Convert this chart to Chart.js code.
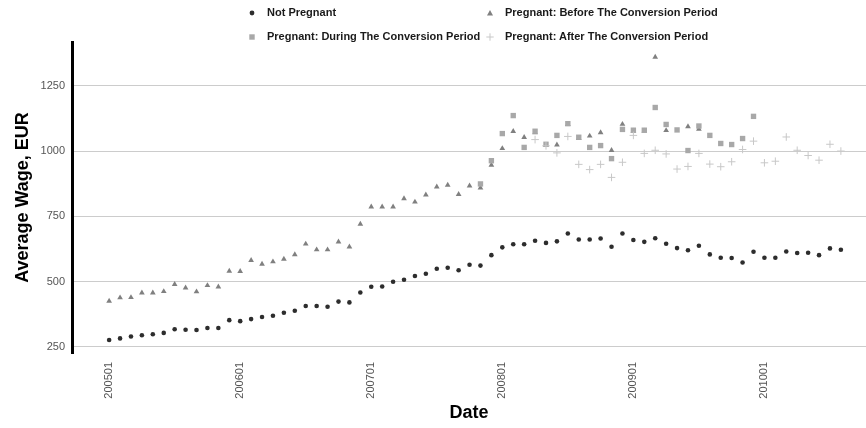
<!DOCTYPE html>
<html>
<head>
<meta charset="utf-8">
<script src="https://cdn.jsdelivr.net/npm/chart.js@4/dist/chart.umd.min.js"></script>
<style>
  body { margin: 0; background: #fff; }
  #wrap { position: relative; width: 866px; height: 428px; }
  .lg { position: absolute; height: 14px; line-height: 14px; font: bold 11px 'Liberation Sans', Arial, sans-serif; color: #1a1a1a; white-space: nowrap; }
  .lg svg { position: absolute; left: -21px; top: 1px; }
</style>
</head>
<body>
<div id="wrap">
  <canvas id="wageChart"></canvas>
  <div class="lg" style="left:267px;top:6px"><svg width="12" height="12"><circle cx="6" cy="6" r="2.4" fill="#2d2d2d"/></svg>Not Pregnant</div>
  <div class="lg" style="left:505px;top:6px"><svg width="12" height="12"><polygon points="6,3 9,8.5 3,8.5" fill="#808080"/></svg>Pregnant: Before The Conversion Period</div>
  <div class="lg" style="left:267px;top:30px"><svg width="12" height="12"><rect x="3.3" y="3.3" width="5.4" height="5.4" fill="#a8a8a8"/></svg>Pregnant: During The Conversion Period</div>
  <div class="lg" style="left:505px;top:30px"><svg width="12" height="12"><path d="M6 2.3V9.7M2.3 6H9.7" stroke="#c8c8c8" stroke-width="1"/></svg>Pregnant: After The Conversion Period</div>
</div>
<script>
// months on the x axis (one point per month)
const months = [
  '200501','200502','200503','200504','200505','200506','200507','200508','200509','200510','200511','200512',
  '200601','200602','200603','200604','200605','200606','200607','200608','200609','200610','200611','200612',
  '200701','200702','200703','200704','200705','200706','200707','200708','200709','200710','200711','200712',
  '200801','200802','200803','200804','200805','200806','200807','200808','200809','200810','200811','200812',
  '200901','200902','200903','200904','200905','200906','200907','200908','200909','200910','200911','200912',
  '201001','201002','201003','201004','201005','201006','201007','201008'
];
const tickLabels = ['200501', '200601', '200701', '200801', '200901', '201001'];
const yTicks = [250, 500, 750, 1000, 1250];

// Not Pregnant, from 200501
const notPregnant = [
  276, 282, 289, 294, 298, 303, 317, 315, 314, 322, 322, 352,
  348, 356, 364, 369, 380, 388, 406, 406, 403, 423, 420, 458,
  480, 481, 499, 507, 521, 530, 549, 553, 543, 564, 561, 601,
  631, 643, 643, 656, 648, 654, 684, 661, 661, 665, 633, 684,
  659, 652, 666, 645, 628, 620, 637, 604, 591, 590, 573, 614,
  591, 591, 615, 609, 610, 601, 627, 622
];

// Pregnant: Before The Conversion Period
const beforeFrom = '200501';
const before = [
  425, 438, 439, 457, 457, 462, 489, 476, 461, 485, 480, 540,
  539, 581, 567, 576, 586, 603, 644, 622, 622, 652, 633, 720,
  786, 786, 786, 818, 805, 832, 863, 870, 834, 867, 859, 946,
  1010, 1076, 1053, 1071, 1022, 1024, 1102, 1049, 1058, 1071, 1003, 1103,
  1077, 1077, 1360, 1079, null, 1094, 1084
];

// Pregnant: During The Conversion Period
const duringFrom = '200711';
const during = [
  874, 963,
  1067, 1136, 1014, 1076, 1026, 1060, 1105, 1053, 1014, 1021, 971, 1083,
  1080, 1080, 1167, 1102, 1081, 1002, 1096, 1060, 1029, 1025, 1048, 1133
];

// Pregnant: After The Conversion Period
const afterFrom = '200804';
const after = [
  1044, 1020, 993, 1056, 949, 929, 949, 899, 957,
  1060, 991, 1003, 989, 931, 941, 991, 950, 940, 959, 1006, 1038,
  955, 961, 1054, 1003, 983, 965, 1026, 1000
];

function toPoints(values, from) {
  const start = months.indexOf(from);
  return values
    .map((v, i) => (v === null ? null : { x: start + i, y: v }))
    .filter(p => p !== null);
}

Chart.defaults.font.family = "'Liberation Sans', Arial, sans-serif";

new Chart(document.getElementById('wageChart'), {
  type: 'scatter',
  data: {
    datasets: [
      {
        label: 'Not Pregnant',
        data: toPoints(notPregnant, '200501'),
        pointStyle: 'circle',
        pointRadius: 2.3,
        backgroundColor: '#2d2d2d',
        borderWidth: 0,
        order: 3
      },
      {
        label: 'Pregnant: Before The Conversion Period',
        data: toPoints(before, beforeFrom),
        pointStyle: 'triangle',
        pointRadius: 3.3,
        backgroundColor: '#808080',
        borderWidth: 0,
        order: 2
      },
      {
        label: 'Pregnant: During The Conversion Period',
        data: toPoints(during, duringFrom),
        pointStyle: 'rect',
        pointRadius: 3.8,
        backgroundColor: '#a8a8a8',
        borderWidth: 0,
        order: 1
      },
      {
        label: 'Pregnant: After The Conversion Period',
        data: toPoints(after, afterFrom),
        pointStyle: 'cross',
        pointRadius: 3.8,
        borderColor: '#c8c8c8',
        backgroundColor: '#c8c8c8',
        borderWidth: 1,
        order: 0
      }
    ]
  },
  options: {
    responsive: true,
    maintainAspectRatio: false,
    animation: false,
    layout: { autoPadding: false, padding: { top: 42, left: 0, right: 0, bottom: 0 } },
    plugins: {
      legend: { display: false },
      tooltip: { enabled: false }
    },
    scales: {
      x: {
        type: 'linear',
        min: -3.4,
        max: 69.3,
        afterBuildTicks: scale => {
          scale.ticks = tickLabels.map(t => ({ value: months.indexOf(t) }));
        },
        afterFit: scale => {
          scale.height = 75;
          scale.paddingLeft = 0;
          scale.paddingRight = 0;
        },
        grid: { display: false, drawTicks: false },
        border: { display: false },
        ticks: {
          autoSkip: false,
          minRotation: 90,
          maxRotation: 90,
          padding: 9,
          color: '#555',
          font: { size: 11 },
          callback: v => months[v] || ''
        },
        title: {
          display: true,
          text: 'Date',
          color: '#000',
          font: { size: 18, weight: 'bold' },
          padding: { top: 0, bottom: 4 }
        }
      },
      y: {
        min: 226,
        max: 1418,
        afterBuildTicks: scale => {
          scale.ticks = yTicks.map(v => ({ value: v }));
        },
        afterFit: scale => { scale.width = 72; },
        grid: { color: '#cccccc', lineWidth: 1, drawTicks: false },
        border: { display: true, color: '#000', width: 3 },
        ticks: {
          padding: 7,
          color: '#555',
          font: { size: 11 },
          callback: v => String(v)
        },
        title: {
          display: true,
          text: 'Average Wage, EUR',
          color: '#000',
          font: { size: 18, weight: 'bold' },
          padding: { top: 12, bottom: 0 }
        }
      }
    }
  }
});
</script>
</body>
</html>
